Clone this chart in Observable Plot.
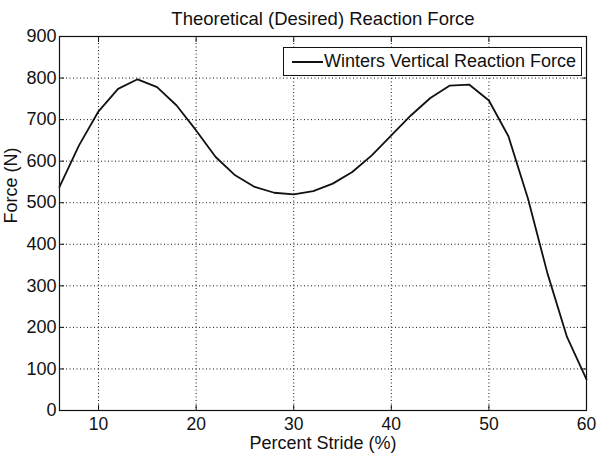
<!DOCTYPE html>
<html>
<head>
<meta charset="utf-8">
<script src="https://cdn.jsdelivr.net/npm/d3@7"></script>
<script src="https://cdn.jsdelivr.net/npm/@observablehq/plot@0.6"></script>
<style>
  body { margin: 0; background: #fff; }
  #wrap { position: relative; width: 600px; height: 461px; font-family: "Liberation Sans", Arial, sans-serif; }
  #legend { position: absolute; left: 283px; top: 47px; width: 297px; height: 27px; border: 1px solid #111; background: #fff; }
  #legend .ln { position: absolute; left: 8px; top: 13px; width: 31px; height: 0; border-top: 2px solid #111; }
  #legend .tx { position: absolute; left: 40px; top: 3px; font-size: 18px; color: #111; white-space: nowrap; }
</style>
</head>
<body>
<div id="wrap"></div>
<script>
const title = "Theoretical (Desired) Reaction Force";
const xLabel = "Percent Stride (%)";
const yLabel = "Force (N)";
const seriesName = "Winters Vertical Reaction Force";
const stride = [6,8,10,12,14,16,18,20,22,24,26,28,30,32,34,36,38,40,42,44,46,48,50,52,54,56,58,60];
const force = [538,638,720,774,797,778,734,674,610,566,538,524,520,528,546,574,614,662,710,752,782,784,746,660,510,330,177,75];
const xTicks = [10,20,30,40,50,60];
const yTicks = [0,100,200,300,400,500,600,700,800,900];

const data = stride.map((s, i) => ({x: s, y: force[i]}));
const ink = "#111";

const chart = Plot.plot({
  width: 600,
  height: 461,
  marginLeft: 59,
  marginRight: 14,
  marginTop: 36,
  marginBottom: 51,
  style: {fontFamily: "Liberation Sans, Arial, sans-serif", fontSize: "18px", color: ink, background: "#fff"},
  x: {domain: [6, 60]},
  y: {domain: [0, 900]},
  marks: [
    Plot.ruleX(xTicks, {stroke: ink, strokeWidth: 1, strokeDasharray: "1,2.5"}),
    Plot.ruleY(yTicks, {stroke: ink, strokeWidth: 1, strokeDasharray: "1,2.5"}),
    Plot.axisX({anchor: "bottom", ticks: xTicks, tickSize: -5, tickPadding: 12, label: null, fill: ink, stroke: ink, fontSize: 17.5}),
    Plot.axisX({anchor: "top", ticks: xTicks, tickSize: -5, tickFormat: () => "", label: null, stroke: ink}),
    Plot.axisY({anchor: "left", ticks: yTicks, tickSize: -5, tickPadding: 8, label: null, fill: ink, stroke: ink, fontSize: 18}),
    Plot.axisY({anchor: "right", ticks: yTicks, tickSize: -5, tickFormat: () => "", label: null, stroke: ink}),
    Plot.frame({stroke: ink, strokeWidth: 1.2}),
    Plot.line(data, {x: "x", y: "y", stroke: ink, strokeWidth: 1.8}),
    Plot.text([title], {frameAnchor: "top", dy: -25, fontSize: 18.5, fill: ink}),
    Plot.text([xLabel], {frameAnchor: "bottom", dy: 38, fontSize: 18, fill: ink}),
    Plot.text([yLabel], {frameAnchor: "left", dx: -48, rotate: -90, fontSize: 18, fill: ink})
  ]
});
const wrap = document.getElementById("wrap");
wrap.appendChild(chart);
const lg = document.createElement("div");
lg.id = "legend";
lg.innerHTML = `<div class="ln"></div><div class="tx"></div>`;
lg.querySelector(".tx").textContent = seriesName;
wrap.appendChild(lg);
</script>
</body>
</html>
